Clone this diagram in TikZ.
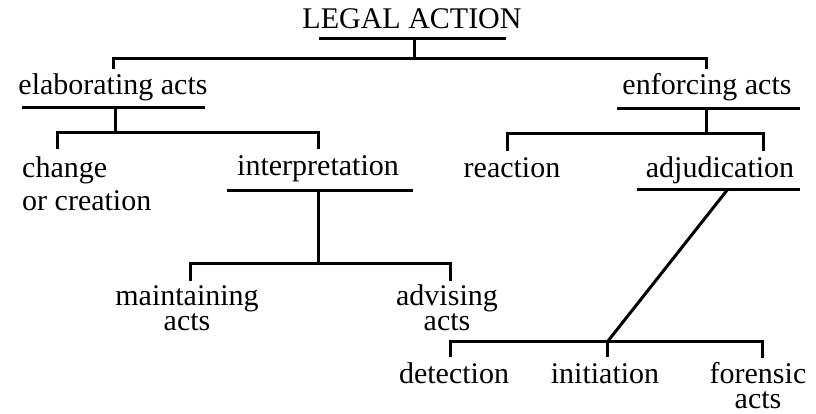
\documentclass[tikz,border=0pt]{standalone}
\usepackage{fontspec}
\setmainfont{Liberation Serif}
\begin{document}
\begin{tikzpicture}[x=1pt,y=-1pt,
  lbl/.style={font=\fontsize{30}{30}\selectfont, inner sep=0pt, anchor=base},
  two/.style={align=center, font=\fontsize{30}{25}\selectfont},
  wire/.style={line width=3pt, line join=miter, line cap=butt}]
\useasboundingbox (0,0) rectangle (816,413);

% text nodes (multi-line nodes are placed at the baseline of their last line)
\node[lbl] (legal) at (412,28) {LEGAL ACTION};
\node[lbl] (elab) at (113,94) {elaborating acts};
\node[lbl] (enf) at (707,94) {enforcing acts};
\node[lbl, anchor=base west, align=left, font=\fontsize{30}{33}\selectfont] (change) at (22,210) {change\\or creation};
\node[lbl] (interp) at (318,175) {interpretation};
\node[lbl] (react) at (512,177) {reaction};
\node[lbl] (adj) at (720,177) {adjudication};
\node[lbl, two] (maint) at (187,330) {maintaining\\acts};
\node[lbl, two] (adv) at (447,330) {advising\\acts};
\node[lbl] (det) at (454,383) {detection};
\node[lbl] (init) at (605,383) {initiation};
\node[lbl, two] (foren) at (758,408) {forensic\\acts};

% rule and junction coordinates
\coordinate (legal-w) at (319,38);  \coordinate (legal-e) at (506,38);  \coordinate (legal-j) at (414,38);
\coordinate (top-bar) at (414,58);
\coordinate (elab-t) at (113,69);   \coordinate (enf-t) at (706,69);
\coordinate (elab-w) at (22,107);   \coordinate (elab-e) at (205,107);  \coordinate (elab-j) at (115,107);
\coordinate (elab-bar) at (115,132);
\coordinate (change-t) at (57,149); \coordinate (interp-t) at (318,149);
\coordinate (interp-w) at (227,190);\coordinate (interp-e) at (413,190);\coordinate (interp-j) at (318,190);
\coordinate (interp-bar) at (318,263);
\coordinate (maint-t) at (190,281); \coordinate (adv-t) at (450,281);
\coordinate (enf-w) at (617,108);   \coordinate (enf-e) at (800,108);   \coordinate (enf-j) at (706,108);
\coordinate (enf-bar) at (706,133);
\coordinate (react-t) at (507,151); \coordinate (adj-t) at (763,151);
\coordinate (adj-w) at (637,189);   \coordinate (adj-e) at (800,189);   \coordinate (adj-j) at (728,189);
\coordinate (adj-bar) at (608,341);
\coordinate (det-t) at (450,357);   \coordinate (init-t) at (607,357);  \coordinate (foren-t) at (762,358);

% underlines
\draw[wire] (legal-w) -- (legal-e);
\draw[wire] (elab-w) -- (elab-e);
\draw[wire] (interp-w) -- (interp-e);
\draw[wire] (enf-w) -- (enf-e);
\draw[wire] (adj-w) -- (adj-e);

% connectors
\draw[wire] (legal-j) -- (top-bar);
\draw[wire] (elab-t) |- (top-bar) -| (enf-t);
\draw[wire] (elab-j) -- (elab-bar);
\draw[wire] (change-t) |- (elab-bar) -| (interp-t);
\draw[wire] (interp-j) -- (interp-bar);
\draw[wire] (maint-t) |- (interp-bar) -| (adv-t);
\draw[wire] (enf-j) -- (enf-bar);
\draw[wire] (react-t) |- (enf-bar) -| (adj-t);
\draw[wire] (adj-j) -- (adj-bar);
\draw[wire] (det-t) |- (adj-bar) -| (foren-t);
\draw[wire] (init-t) -- (init-t |- adj-bar);
\end{tikzpicture}
\end{document}
